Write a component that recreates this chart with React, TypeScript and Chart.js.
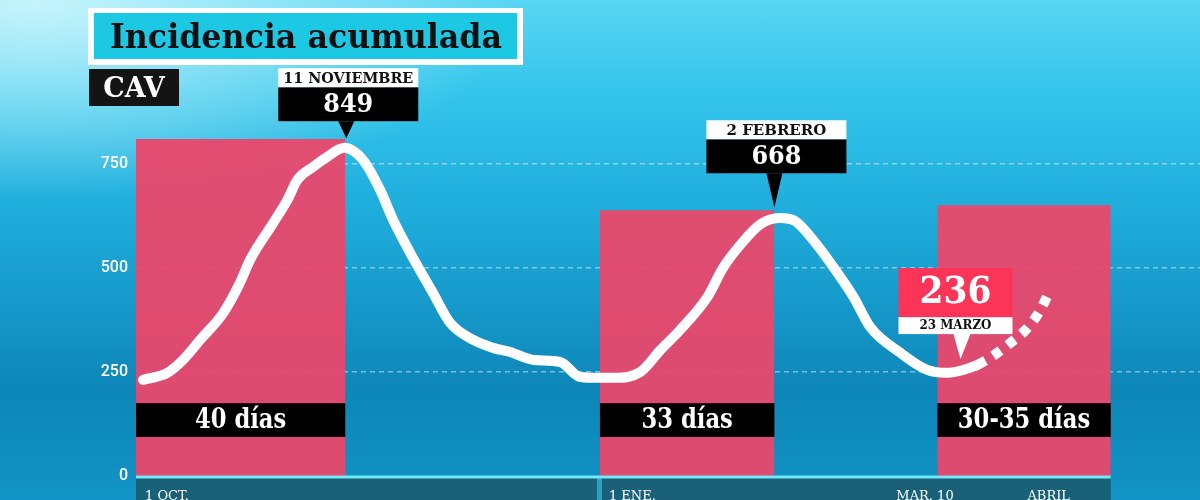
import { useEffect, useRef } from "react";
import { Chart, registerables } from "chart.js";

Chart.register(...registerables);

// days are counted from 1 October
const lineDays = [1.4, 6.2, 9.3, 12.7, 17.3, 20.6, 22.6, 27.2, 30.0, 32.0, 35.1, 37.9, 41.3, 45.0, 48.4, 51.0, 54.4, 58.9, 62.3, 66.9, 70.8, 74.2, 78.8, 84.1, 88.1, 92.1, 95.0, 100.0, 104.0, 107.9, 113.3, 116.5, 119.8, 123.8, 127.8, 130.8, 134.3, 138.3, 142.3, 145.6, 151.6, 156.9, 160.9, 164.1, 166.9];
const lineValues = [231, 248, 279, 327, 392, 464, 519, 608, 663, 712, 743, 767, 789, 760, 688, 615, 536, 440, 368, 327, 308, 298, 279, 274, 238, 236, 236, 250, 303, 351, 430, 502, 555, 605, 620, 612, 567, 502, 430, 358, 296, 255, 248, 255, 267];

const projDays = [166.9, 169.4, 173.4, 176.4, 179.0, 181.3];
const projValues = [267, 284, 320, 351, 392, 447];

const barStarts = [0, 92, 158.9];
const barEnds = [41.5, 126.6, 193.3];
const barTops = [810, 639, 651];
const barLabels = ["40 días", "33 días", "30-35 días"];
const bandLow = 94;
const bandHigh = 175;

const yTicks = [0, 250, 500, 750];
const xTickDays = [0, 92, 149, 175];
const xTickLabels = ["1 OCT.", "1 ENE.", "MAR. 10", "ABRIL"];

const peakDays = [41.7, 126.6];
const peakTips = [812, 646];
const peakDates = ["11 NOVIEMBRE", "2 FEBRERO"];
const peakTexts = ["849", "668"];

const lastDay = 163.5;
const lastTip = 281;
const lastDate = "23 MARZO";
const lastText = "236";

const SERIF = '"DejaVu Serif", "Liberation Serif", serif';

function drawPeak(ctx: CanvasRenderingContext2D, tx: number, ty: number, tri: number, date: string, text: string) {
  const w = 140;
  const bh = 34;
  const wh = 19;
  const cx = tx + 2;
  const bottom = ty - tri;
  ctx.fillStyle = "#000";
  ctx.beginPath();
  ctx.moveTo(tx - 8, bottom);
  ctx.lineTo(tx + 8, bottom);
  ctx.lineTo(tx, ty);
  ctx.closePath();
  ctx.fill();
  ctx.fillRect(cx - w / 2, bottom - bh, w, bh);
  ctx.fillStyle = "#fff";
  ctx.fillRect(cx - w / 2, bottom - bh - wh, w, wh);
  ctx.textAlign = "center";
  ctx.textBaseline = "middle";
  ctx.font = `bold 26px ${SERIF}`;
  ctx.fillText(text, cx, bottom - bh / 2 + 1, 50);
  ctx.fillStyle = "#111";
  ctx.font = `bold 15px ${SERIF}`;
  ctx.fillText(date, cx, bottom - bh - wh / 2 + 1, w - 10);
}

const overlay = {
  id: "overlay",
  beforeDraw(chart: any) {
    const { ctx, chartArea, scales } = chart;
    const x = scales.x;
    const x0 = x.getPixelForValue(0);
    const x1 = x.getPixelForValue(barEnds[barEnds.length - 1]);
    ctx.save();
    ctx.fillStyle = "rgba(26,92,114,0.92)";
    ctx.fillRect(x0, chartArea.bottom, x1 - x0, chart.height - chartArea.bottom);
    const dx = x.getPixelForValue(xTickDays[1]);
    ctx.fillStyle = "#2aa2c8";
    ctx.fillRect(dx - 3, chartArea.bottom, 5, chart.height - chartArea.bottom);
    ctx.restore();
  },
  afterDatasetsDraw(chart: any) {
    const { ctx, chartArea, scales } = chart;
    const { x, y } = scales;
    ctx.save();
    // base line
    ctx.strokeStyle = "#70e8f8";
    ctx.lineWidth = 3;
    ctx.beginPath();
    ctx.moveTo(x.getPixelForValue(0), chartArea.bottom + 1);
    ctx.lineTo(x.getPixelForValue(barEnds[barEnds.length - 1]), chartArea.bottom + 1);
    ctx.stroke();

    // black bands with duration labels
    barStarts.forEach((s, i) => {
      const bx0 = x.getPixelForValue(s);
      const bx1 = x.getPixelForValue(barEnds[i]);
      const by0 = y.getPixelForValue(bandHigh);
      const by1 = y.getPixelForValue(bandLow);
      ctx.fillStyle = "#000";
      ctx.fillRect(bx0, by0, bx1 - bx0, by1 - by0);
      ctx.fillStyle = "#fff";
      ctx.font = `bold 27px ${SERIF}`;
      ctx.textAlign = "center";
      ctx.textBaseline = "middle";
      const m = ctx.measureText(barLabels[i]).width;
      ctx.fillText(barLabels[i], (bx0 + bx1) / 2, (by0 + by1) / 2 + 1, m * 0.84);
    });

    // peak callouts
    const pointerLength = [17, 34];
    peakDays.forEach((d, i) => {
      drawPeak(ctx, x.getPixelForValue(d), y.getPixelForValue(peakTips[i]), pointerLength[i], peakDates[i], peakTexts[i]);
    });

    // latest value callout
    const tx = x.getPixelForValue(lastDay);
    const ty = y.getPixelForValue(lastTip);
    const cx = tx - 5;
    const w = 114;
    const triBottom = ty - 25;
    ctx.fillStyle = "#fff";
    ctx.beginPath();
    ctx.moveTo(tx - 7, triBottom);
    ctx.lineTo(tx + 10, triBottom);
    ctx.lineTo(tx, ty);
    ctx.closePath();
    ctx.fill();
    ctx.fillRect(cx - w / 2, triBottom - 17, w, 17);
    ctx.fillStyle = "#fb3458";
    ctx.fillRect(cx - w / 2, triBottom - 17 - 49, w, 49);
    ctx.fillStyle = "#fff";
    ctx.font = `bold 38px ${SERIF}`;
    ctx.textAlign = "center";
    ctx.textBaseline = "middle";
    ctx.fillText(lastText, cx, triBottom - 17 - 24, 72);
    ctx.fillStyle = "#111";
    ctx.font = `bold 13px ${SERIF}`;
    ctx.fillText(lastDate, cx, triBottom - 8, 72);
    ctx.restore();
  },
  afterDraw(chart: any) {
    const { ctx } = chart;
    ctx.save();
    // title
    ctx.fillStyle = "#fff";
    ctx.fillRect(88, 8, 435, 57);
    ctx.fillStyle = "#1dc8e5";
    ctx.fillRect(94, 13, 423, 46);
    ctx.fillStyle = "#111";
    ctx.font = `bold 33px ${SERIF}`;
    ctx.textAlign = "center";
    ctx.textBaseline = "alphabetic";
    ctx.fillText("Incidencia acumulada", 306, 48, 392);
    // region tag
    ctx.fillStyle = "#141414";
    ctx.fillRect(89, 69, 90, 37);
    ctx.fillStyle = "#fff";
    ctx.font = `bold 27px ${SERIF}`;
    ctx.fillText("CAV", 134, 97, 62);
    ctx.restore();
  },
};

export default function App() {
  const canvasRef = useRef<HTMLCanvasElement>(null);

  useEffect(() => {
    document.body.style.margin = "0";
    const ctx = canvasRef.current?.getContext("2d");
    if (!ctx) return;

    const barSets = barStarts.map((s, i) => ({
      type: "line" as const,
      data: [
        { x: s, y: barTops[i] },
        { x: barEnds[i], y: barTops[i] },
      ],
      borderWidth: 0,
      pointRadius: 0,
      backgroundColor: "rgba(234,72,108,0.95)",
      fill: "origin",
      order: 5,
    }));

    const chart = new Chart(ctx, {
      type: "line",
      data: {
        datasets: [
          {
            data: lineDays.map((d, i) => ({ x: d, y: lineValues[i] })),
            borderColor: "#fff",
            borderWidth: 10,
            pointRadius: 0,
            borderCapStyle: "round",
            borderJoinStyle: "round",
            cubicInterpolationMode: "monotone",
            fill: false,
            order: 0,
          },
          {
            data: projDays.map((d, i) => ({ x: d, y: projValues[i] })),
            borderColor: "#fff",
            borderWidth: 10,
            borderDash: [9, 9],
            borderCapStyle: "butt",
            pointRadius: 0,
            cubicInterpolationMode: "monotone",
            fill: false,
            order: 1,
          },
          ...barSets,
        ] as any,
      },
      options: {
        animation: false,
        responsive: true,
        maintainAspectRatio: false,
        layout: { padding: { top: 60, right: 0, bottom: 0, left: 0 } },
        plugins: { legend: { display: false }, tooltip: { enabled: false } },
        scales: {
          x: {
            type: "linear",
            min: 0,
            max: 211,
            afterFit: (s: any) => {
              s.height = 24;
            },
            afterBuildTicks: (s: any) => {
              s.ticks = xTickDays.map((v) => ({ value: v }));
            },
            grid: { display: false },
            border: { display: false },
            ticks: {
              autoSkip: false,
              maxRotation: 0,
              align: "start",
              labelOffset: 9,
              padding: 5,
              color: "#fff",
              font: { family: "DejaVu Serif", size: 13 },
              callback: (_v: any, i: number) => xTickLabels[i],
            },
          },
          y: {
            min: 0,
            max: 1000,
            afterFit: (s: any) => {
              s.width = 136;
            },
            afterBuildTicks: (s: any) => {
              s.ticks = yTicks.map((v) => ({ value: v }));
            },
            border: { display: false, dash: [5, 4] },
            grid: {
              drawTicks: false,
              color: (c: any) => (c.tick && c.tick.value === 0 ? "rgba(0,0,0,0)" : "rgba(255,255,255,0.45)"),
              lineWidth: 1.5,
            },
            ticks: {
              padding: 8,
              color: "#fff",
              font: { family: "Roboto", size: 16, weight: 500 },
            },
          },
        },
      },
      plugins: [overlay],
    });

    return () => chart.destroy();
  }, []);

  return (
    <div
      style={{
        position: "relative",
        width: 1200,
        height: 500,
        background:
          "radial-gradient(ellipse 40% 40% at 3% 0%, rgba(205,246,252,0.95), rgba(205,246,252,0) 100%), linear-gradient(180deg, #58d6f3 0%, #36c6ec 18%, #20afdd 40%, #1598c9 62%, #0d86b8 78%, #1194c5 100%)",
      }}
    >
      <canvas ref={canvasRef} />
    </div>
  );
}
